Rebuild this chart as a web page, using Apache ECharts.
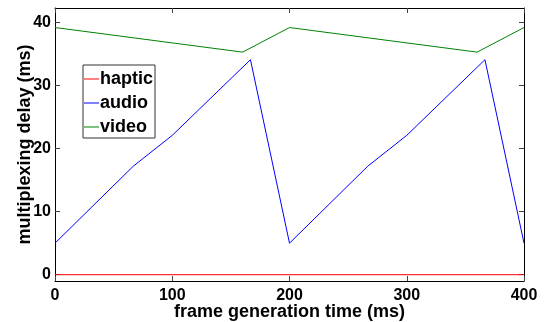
<!DOCTYPE html>
<html><head><meta charset="utf-8">
<script src="https://cdn.jsdelivr.net/npm/echarts@6/dist/echarts.min.js"></script>
<style>html,body{margin:0;padding:0;background:#fff}#c{width:544px;height:322px}</style>
</head><body><div id="c"></div>
<script>
const seriesNames = ['haptic', 'audio', 'video'];
const hapticX = [0, 400];
const hapticY = [0, 0];
const audioX = [0, 66.7, 100, 166.7, 200, 266.7, 300, 366.7, 400];
const audioY = [5, 17.2, 22.1, 34.1, 5, 17.2, 22.1, 34.1, 5];
const videoX = [0, 160, 200, 360, 400];
const videoY = [39.2, 35.3, 39.2, 35.3, 39.2];
const xTicks = [0, 100, 200, 300, 400];
const yTicks = [0, 10, 20, 30, 40];
const colors = ['#ff0000', '#0000ff', '#008000'];

const pairs = (xs, ys) => xs.map((x, i) => [x, ys[i]]);
const font = 'Liberation Sans, Arial, sans-serif';
const chart = echarts.init(document.getElementById('c'), null, {renderer: 'canvas'});
const tickStyle = {show: true, inside: true, length: 5, lineStyle: {color: '#444', width: 1}};
const lineAx = {show: true, onZero: false, lineStyle: {color: '#000', width: 1}};
chart.setOption({
  animation: false,
  grid: {left: 55, right: 20, top: 8, bottom: 41, containLabel: false, outerBoundsMode: 'none'},
  xAxis: [{
    type: 'value', min: 0, max: 400, interval: 100,
    name: 'frame generation time (ms)', nameLocation: 'middle', nameGap: 22, nameMoveOverlap: false,
    nameTextStyle: {fontFamily: font, fontWeight: 'bold', fontSize: 18, color: '#000'},
    axisLine: lineAx,
    axisTick: Object.assign({}, tickStyle, {customValues: xTicks}),
    axisLabel: {fontFamily: font, fontWeight: 'bold', fontSize: 16, color: '#000', margin: 7, customValues: xTicks},
    splitLine: {show: false}
  }, {
    type: 'value', min: 0, max: 400, interval: 100, position: 'top',
    axisLine: lineAx,
    axisTick: Object.assign({}, tickStyle, {customValues: xTicks}),
    axisLabel: {show: false}, splitLine: {show: false}
  }],
  yAxis: [{
    type: 'value', min: -1, max: 42.3,
    name: 'multiplexing delay (ms)', nameLocation: 'middle', nameGap: 21, nameMoveOverlap: false,
    nameTextStyle: {fontFamily: font, fontWeight: 'bold', fontSize: 18, color: '#000'},
    axisLine: lineAx,
    axisTick: Object.assign({}, tickStyle, {customValues: yTicks}),
    axisLabel: {fontFamily: font, fontWeight: 'bold', fontSize: 16, color: '#000', margin: 4, customValues: yTicks},
    splitLine: {show: false}
  }, {
    type: 'value', min: -1, max: 42.3, position: 'right',
    axisLine: lineAx,
    axisTick: Object.assign({}, tickStyle, {customValues: yTicks}),
    axisLabel: {show: false}, splitLine: {show: false}
  }],
  legend: {
    orient: 'vertical', left: 83, top: 65,
    data: seriesNames.map((n, i) => ({name: n, icon: 'rect', itemStyle: {color: colors[i]}})),
    backgroundColor: '#fff', borderColor: '#333', borderWidth: 1,
    padding: [5, 2, 2, 1], itemGap: 6, itemWidth: 15, itemHeight: 1,
    textStyle: {fontFamily: font, fontWeight: 'bold', fontSize: 18, lineHeight: 18, color: '#000', padding: [0, 0, 0, -4]}
  },
  series: [
    {name: 'haptic', type: 'line', data: pairs(hapticX, hapticY), symbol: 'none', lineStyle: {color: colors[0], width: 1}, itemStyle: {color: colors[0]}},
    {name: 'audio', type: 'line', data: pairs(audioX, audioY), symbol: 'none', lineStyle: {color: colors[1], width: 1}, itemStyle: {color: colors[1]}},
    {name: 'video', type: 'line', data: pairs(videoX, videoY), symbol: 'none', lineStyle: {color: colors[2], width: 1}, itemStyle: {color: colors[2]}}
  ]
});
</script></body></html>
